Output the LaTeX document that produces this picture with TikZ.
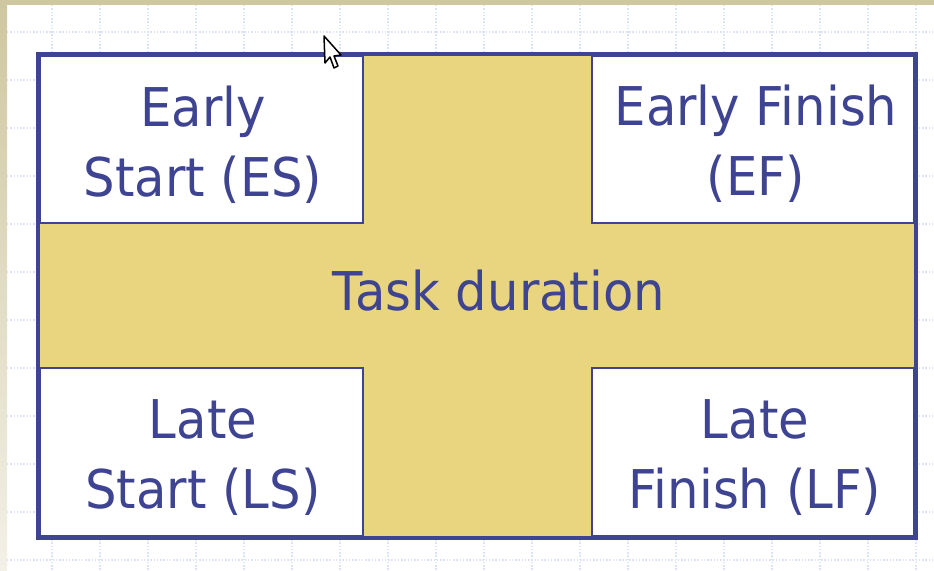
\documentclass[tikz,border=0pt]{standalone}
\usepackage{fontspec}
\setmainfont[FakeStretch=0.93]{DejaVu Sans}
\definecolor{inkblue}{HTML}{3E4491}
\definecolor{barfill}{HTML}{E9D57F}
\definecolor{gridblue}{HTML}{DDE3F7}
\definecolor{slidetan}{HTML}{CEC7A0}
\definecolor{slidepale}{HTML}{F3F0E7}
\tikzset{
  lbl/.style={text=inkblue, align=center, inner sep=0pt, anchor=base,
    font=\fontsize{30.4}{39.3}\selectfont},
  cell/.style={draw=inkblue, fill=white, line width=0.03cm},
}
\begin{document}
\begin{tikzpicture}[x=0.02cm, y=-0.02cm]
      \useasboundingbox (0,0) rectangle (934,571);
      \fill[white] (0,0) rectangle (934,571);
      %
      \foreach \gx in {52,100,...,916}              % grid cols
        \draw[gridblue, densely dotted, line width=0.03cm] (\gx,5) -- (\gx,571);
      \foreach \gy in {32,80,...,560}               % grid rows
        \draw[gridblue, densely dotted, line width=0.03cm] (7,\gy) -- (934,\gy);
      %
      \shade[top color=slidetan, bottom color=slidepale] (0,0) rectangle (7,571); % slide edge
      \fill[slidetan] (0,0) rectangle (934,5);
      %
      \fill[barfill] (38,54) rectangle (916,538);   % cross
      %
      \draw[cell] (40,56) rectangle (363,223);      % top left cell
      \draw[cell] (592,56) rectangle (914,223);     % top right cell
      \draw[cell] (40,368) rectangle (363,536);     % bottom left cell
      \draw[cell] (592,368) rectangle (914,536);    % bottom right cell
      %
      \draw[inkblue, line width=0.08cm] (38,54) rectangle (916,538); % frame
      %
      \node[lbl] (es) at (203,196) {Early\\Start (ES)};      % first row
      \node[lbl] (ef) at (756,195) {Early Finish\\(EF)};
      %%
      \node[lbl] (td) at (499,310) {Task duration};         % middle bar
      %%
      \node[lbl] (ls) at (203,508) {Late\\Start (LS)};       % last row
      \node[lbl] (lf) at (755,508) {Late\\Finish (LF)};
      %
      \draw[black, fill=white, line width=0.03cm, line join=round]   % pointer
        (324,36) -- (325,63) -- (330,57) -- (334,68) -- (338,66)
        -- (334,56) -- (341,55) -- cycle;
      %
    \end{tikzpicture}
\end{document}
